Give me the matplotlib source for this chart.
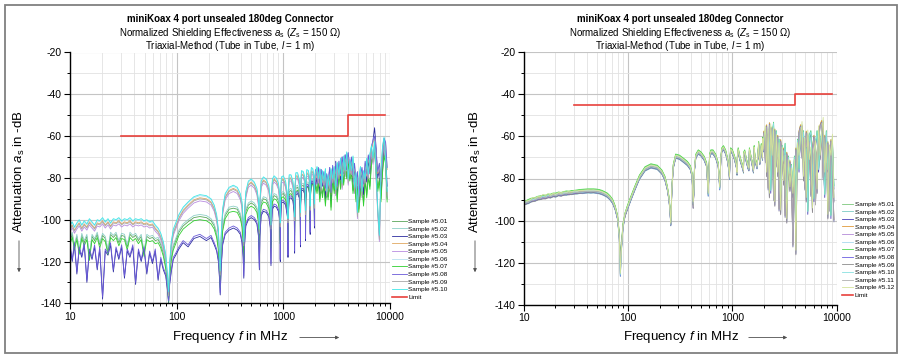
import numpy as np
import matplotlib
matplotlib.use("Agg")
import matplotlib.pyplot as plt
from matplotlib.ticker import MultipleLocator, LogLocator, NullFormatter
from matplotlib.patches import Rectangle, FancyArrowPatch

plt.rcParams['font.family'] = ['Liberation Sans', 'DejaVu Sans']
plt.rcParams['mathtext.fontset'] = 'custom'
plt.rcParams['mathtext.rm'] = 'Liberation Sans'
plt.rcParams['mathtext.it'] = 'Liberation Sans:italic'
plt.rcParams['mathtext.bf'] = 'Liberation Sans:bold'
plt.rcParams['axes.unicode_minus'] = False

# ---------------- frequency grid (MHz) ----------------
freq_low = [10, 10.5, 11, 11.6, 12.2, 12.9, 13.6, 14.4, 15.2, 16.1,
            17, 18, 19, 20.2, 21.4, 22.7, 24, 25.5, 27, 28.7,
            30.5, 32.4, 34.4, 36.5, 38.8, 41.2, 43.8, 46.5, 49.4, 52.5,
            55.8, 59.3, 63, 67, 71, 75, 79, 82, 84, 86,
            89, 93]
freq_mid = [98, 105, 115, 128, 145, 165, 190, 210, 225, 237, 246, 252, 256, 262,
            270, 285, 310, 340, 370, 395, 410, 420, 426, 432,
            445, 470, 500, 535, 565, 585, 596, 603,
            620, 650, 690, 730, 755, 766, 773,
            790, 820, 860, 900, 928, 936, 943,
            960, 1000, 1050, 1095, 1106, 1113,
            1135, 1180, 1230, 1266, 1276, 1283,
            1310, 1360, 1410, 1438, 1446, 1453,
            1480, 1540, 1590, 1608, 1616, 1623,
            1660, 1720, 1770, 1786, 1793,
            1830, 1890, 1940, 1956, 1963]
freq_high = [2000, 2070, 2130, 2200, 2260, 2330, 2400, 2480, 2550, 2630,
             2720, 2800, 2900, 3000, 3100, 3200, 3320, 3440, 3560, 3680,
             3800, 3930, 4060, 4200, 4350, 4500, 4650, 4800, 4950, 5100,
             5280, 5460, 5650, 5850, 6050, 6260, 6480, 6700, 6930, 7170,
             7420, 7680, 7950, 8230, 8520, 8800, 9100, 9400]

# ---------------- left panel: three sample groups ----------------
upper_low = [-104, -102.5, -105, -103, -101.5, -104, -102, -103.5, -101, -102.5,
             -104, -101.5, -102, -100.5, -102.5, -101, -103, -101, -101.5, -100.5,
             -102, -101, -101.5, -100.5, -102, -101, -101.5, -101, -102, -101.5,
             -102.5, -102, -104, -105.5, -108, -112, -118, -128, -136, -122,
             -112, -106]
upper_mid = [-103, -99, -95.5, -93, -90.5, -89.5, -90, -91.5, -94.5, -99, -106, -118, -126, -108,
             -96, -89, -86, -85, -86, -89, -93, -102, -112, -98,
             -88, -83, -82, -83.5, -86.5, -92, -106, -92,
             -83, -81, -82, -85, -91, -104, -90,
             -82, -80.5, -81.5, -84, -90, -103, -88,
             -81, -80.5, -83, -90, -101, -87,
             -80, -80, -83, -89, -100, -86,
             -79, -79, -82, -88, -98, -85,
             -78, -78.5, -81, -87, -97, -84,
             -77.5, -78, -82, -95, -83,
             -76.5, -77, -81, -94, -82]
upper_high = [-77, -80, -76, -84, -77, -82, -78, -86, -79, -83,
              -76, -88, -75, -81, -74, -85, -73, -79, -71, -77,
              -70, -74, -69, -76, -71, -80, -74, -83, -78, -90,
              -80, -76, -84, -73, -79, -70, -75, -66, -63, -61,
              -70, -78, -74, -82, -70, -62, -64, -76]
upper_high_b = [-79, -76, -82, -77, -86, -78, -83, -77, -88, -80,
                -85, -77, -82, -76, -87, -74, -80, -72, -84, -71,
                -78, -69, -82, -73, -78, -71, -86, -79, -98, -82,
                -76, -88, -78, -82, -72, -80, -70, -66, -72, -64,
                -80, -96, -109, -78, -66, -62, -72, -88]

middle_low = [-110, -107, -113, -108, -115, -107.5, -111, -108, -118, -108,
              -110, -107, -112, -107.5, -109, -115, -107, -108.5, -107, -111,
              -107.5, -108, -113, -107, -108.5, -107.5, -110, -108, -116, -108,
              -109, -108.5, -110, -109.5, -112, -116, -122, -130, -138, -126,
              -118, -113]
middle_mid = [-110, -106, -103, -101, -99, -98.5, -99, -100.5, -103, -107, -113, -124, -131, -115,
              -104, -98, -95, -94.5, -95, -98, -102, -109, -120, -105,
              -96, -93, -92, -93, -95, -100, -114, -100,
              -92, -90, -90.5, -93, -98, -112, -97,
              -90, -88.5, -89, -91, -96, -110, -95,
              -88, -87.5, -89, -95, -108, -93,
              -86.5, -86, -88, -94, -106, -92,
              -85, -84.5, -87, -92, -104, -90,
              -84, -83.5, -86, -91, -102, -89,
              -83, -83, -87, -100, -88,
              -82, -81.5, -85, -98, -87]
middle_high = [-82, -86, -81, -90, -83, -88, -82, -92, -84, -89,
               -80, -94, -79, -86, -78, -90, -76, -84, -74, -82,
               -73, -79, -72, -80, -76, -86, -80, -90, -84, -95,
               -86, -82, -92, -80, -88, -78, -84, -72, -68, -66,
               -76, -85, -80, -90, -76, -68, -72, -90]

lower_low = [-113, -120, -112, -126, -114, -118, -112, -130, -115, -119,
             -113, -124, -114, -138, -115, -117, -112, -125, -114, -119,
             -113, -128, -115, -118, -113, -131, -115, -120, -114, -126,
             -116, -121, -115, -129, -119, -124, -127, -134, -140, -131,
             -125, -119]
lower_mid = [-117, -114, -111, -113, -109, -108, -110, -108.5, -112, -115, -120, -128, -136, -122,
             -112, -107, -105, -104, -105, -107, -111, -118, -128, -113,
             -103, -100, -99, -100, -102, -108, -124, -108,
             -98, -96, -96.5, -98.5, -104, -122, -104,
             -95, -93.5, -94, -96, -101, -120, -101,
             -92, -91.5, -93, -99, -118, -98,
             -90, -89.5, -91, -97, -116, -96,
             -88, -87.5, -89.5, -95, -113, -93,
             -86, -86, -88, -94, -110, -91,
             -84, -84.5, -88, -107, -89,
             -82.5, -82.5, -86, -104, -88]
lower_high = [-78, -83, -77, -88, -76, -84, -79, -90, -80, -85,
              -75, -91, -76, -83, -72, -88, -74, -81, -70, -78,
              -69, -76, -68, -77, -72, -82, -75, -86, -80, -92,
              -82, -78, -88, -75, -82, -72, -78, -66, -62, -56,
              -66, -80, -76, -86, -72, -65, -68, -84]

# ---------------- right panel: two sample groups ----------------
r1_low = [-91.5, -91, -90.5, -90, -89.8, -89.5, -89, -88.8, -88.5, -88.5,
          -88, -88, -87.5, -87.5, -87, -87.2, -86.8, -86.5, -86.6, -86.3,
          -86.2, -86, -85.8, -85.7, -85.6, -85.5, -85.5, -85.5, -85.6, -85.8,
          -86.2, -86.8, -87.5, -88.8, -90.5, -93.5, -98, -106, -118, -112,
          -102, -97]
r1_mid = [-93.5, -89.5, -84.5, -79, -75, -73.6, -74.3, -76.5, -79.5, -84, -89, -95, -101, -85,
          -74, -69, -69.5, -71, -72.5, -74.5, -78, -93, -86, -75,
          -69, -67, -68, -70, -73, -86, -75, -69,
          -67, -67, -69, -73, -83, -76, -70,
          -66, -65, -67, -71, -76, -79, -72,
          -66, -67, -70, -74, -77, -70,
          -66, -70, -73, -75, -76, -68,
          -67, -71, -74, -75, -72, -66,
          -68, -72, -76, -71, -65, -67,
          -71, -74, -66, -63, -68,
          -72, -64, -70, -61, -66]
r1_high = [-58, -72, -55, -85, -54, -66, -56, -90, -57, -74,
           -60, -95, -62, -70, -66, -98, -68, -75, -72, -80,
           -112, -78, -66, -74, -58, -55, -70, -60, -85, -58,
           -64, -62, -88, -66, -60, -92, -68, -62, -55, -53,
           -80, -60, -72, -63, -95, -62, -75, -100]

r2_low = [-92, -91.6, -91.5, -90.8, -90, -90.2, -89.5, -89.5, -88.6, -89,
          -88.2, -88.8, -88, -88.4, -87.6, -87.8, -87.3, -87.5, -87, -87.2,
          -86.8, -86.9, -86.6, -86.7, -86.5, -86.4, -86.5, -86.4, -86.6, -86.8,
          -87.2, -87.8, -88.5, -89.8, -91.5, -94.5, -99, -108, -126, -114,
          -103.5, -97.5]
r2_mid = [-94.5, -90.5, -85.5, -80, -76, -74.6, -75.3, -77.5, -80.5, -85, -90, -96, -102, -86,
          -75, -70, -70.5, -72, -73.5, -75.5, -79, -92, -87, -76,
          -70, -68, -69, -71, -74, -88, -76, -70,
          -68, -68, -70, -74, -85, -77, -71,
          -67, -66, -68, -72, -77, -80, -73,
          -67, -68, -71, -75, -78, -71,
          -67, -71, -74, -76, -77, -69,
          -68, -72, -75, -76, -73, -67,
          -69, -73, -77, -72, -66, -68,
          -72, -75, -67, -64, -69,
          -73, -65, -71, -62, -67]
r2_high = [-62, -56, -78, -58, -88, -55, -70, -57, -92, -60,
           -78, -64, -96, -66, -82, -70, -100, -72, -85, -76,
           -88, -72, -115, -64, -70, -62, -54, -80, -62, -90,
           -58, -72, -66, -95, -68, -63, -86, -56, -70, -60,
           -52, -78, -64, -98, -65, -70, -60, -90]
r3_high = [-64, -58, -60, -75, -56, -86, -60, -54, -80, -58,
           -70, -62, -88, -65, -72, -64, -92, -70, -78, -74,
           -84, -70, -100, -62, -76, -56, -64, -58, -72, -66,
           -96, -60, -58, -74, -90, -64, -58, -76, -66, -58,
           -70, -88, -58, -76, -66, -98, -64, -84]

# ---------------- samples ----------------
left_names = ['Sample #5.01', 'Sample #5.02', 'Sample #5.03', 'Sample #5.04', 'Sample #5.05',
              'Sample #5.06', 'Sample #5.07', 'Sample #5.08', 'Sample #5.09', 'Sample #5.10']
left_colors = ['#5aa55a', '#8fd0c8', '#2c2ca0', '#e0a860', '#b98ce0',
               '#b8e0f0', '#30d030', '#6a5ad8', '#a8a8a8', '#40e8e8']
left_base = ['middle', 'middle', 'lower', 'upper', 'upper',
             'upper', 'middle', 'lower', 'upper', 'upper']
left_hf = ['middle_high', 'upper_high_b', 'lower_high', 'upper_high', 'upper_high_b',
           'upper_high', 'middle_high', 'upper_high', 'upper_high_b', 'upper_high_b']
left_offset = [0.0, 1.0, 0.0, 0.0, -1.5, 1.0, -1.5, 1.0, -0.5, 1.5]

right_names = ['Sample #5.%02d' % i for i in range(1, 13)]
right_colors = ['#7cc87c', '#7ccbc4', '#4a3fb8', '#e09a3a', '#b48ad8', '#a8d8ee',
                '#50d850', '#6a5ee0', '#8c8c8c', '#88e0e0', '#b0b0b0', '#d4e49a']
right_base = ['r1', 'r2', 'r1', 'r2', 'r1', 'r2', 'r1', 'r2', 'r1', 'r2', 'r1', 'r2']
right_hf = ['r1_high', 'r2_high', 'r3_high', 'r1_high', 'r2_high', 'r3_high',
            'r3_high', 'r1_high', 'r2_high', 'r3_high', 'r1_high', 'r2_high']
right_offset = [0.3, -0.5, -1.0, 0.5, -0.8, 0.8, 0.6, -0.3, -1.2, 0.2, -0.6, 1.0]

limit_left_f = [30, 4000, 4000, 9000]
limit_left_v = [-60, -60, -50, -50]
limit_right_f = [30, 4000, 4000, 9000]
limit_right_v = [-45, -45, -40, -40]

lowmid = {'upper': upper_low + upper_mid, 'middle': middle_low + middle_mid,
          'lower': lower_low + lower_mid, 'r1': r1_low + r1_mid, 'r2': r2_low + r2_mid}
highs = {'upper_high': upper_high, 'upper_high_b': upper_high_b, 'middle_high': middle_high,
         'lower_high': lower_high, 'r1_high': r1_high, 'r2_high': r2_high, 'r3_high': r3_high}
freq = np.array(freq_low + freq_mid + freq_high, dtype=float)

W, H = 899, 354
fig = plt.figure(figsize=(W / 100, H / 100), dpi=100)


def fx(px):
    return px / W


def fy(py):
    return 1 - py / H


def style_axis(ax):
    ax.set_xscale('log')
    ax.set_xlim(10, 10000)
    ax.set_ylim(-140, -20)
    ax.set_xticks([10, 100, 1000, 10000], labels=['10', '100', '1000', '10000'])
    ax.xaxis.set_minor_locator(LogLocator(base=10, subs=range(2, 10), numticks=20))
    ax.xaxis.set_minor_formatter(NullFormatter())
    ax.yaxis.set_major_locator(MultipleLocator(20))
    ax.yaxis.set_minor_locator(MultipleLocator(10))
    ax.grid(which='major', color='#c4c4c4', lw=0.8, zorder=0)
    ax.grid(which='minor', color='#e2e2e2', lw=0.6, zorder=0)
    ax.set_axisbelow(True)
    for s in ['top', 'right']:
        ax.spines[s].set_visible(False)
    for s in ['left', 'bottom']:
        ax.spines[s].set_linewidth(1.0)
    ax.tick_params(which='major', direction='out', length=4, width=0.8, labelsize=7.5, pad=2)
    ax.tick_params(which='minor', direction='out', length=2.5, width=0.7)


def draw_panel(ax, names, colors, base, hf, offs, lf, lv, leg_x, leg_y, hlen):
    style_axis(ax)
    handles = []
    for n, c, b, h, o in zip(names, colors, base, hf, offs):
        vals = np.array(lowmid[b] + highs[h], dtype=float) + o
        ln, = ax.plot(freq, vals, color=c, lw=0.6, label=n)
        handles.append(ln)
    lim, = ax.plot(lf, lv, color='#e8413c', lw=1.2, label='Limit')
    handles.append(lim)
    ax.legend(handles=handles, loc='upper left', bbox_to_anchor=(fx(leg_x), fy(leg_y)),
              bbox_transform=fig.transFigure, frameon=False, fontsize=4.6,
              handlelength=hlen, handletextpad=0.3, labelspacing=0.33,
              borderpad=0, borderaxespad=0)


axL = fig.add_axes([fx(70), fy(303.3), 320 / W, 250.8 / H])
axR = fig.add_axes([fx(524), fy(305), 312.7 / W, 253 / H])
draw_panel(axL, left_names, left_colors, left_base, left_hf, left_offset,
           limit_left_f, limit_left_v, 391.5, 218.5, 2.35)
draw_panel(axR, right_names, right_colors, right_base, right_hf, right_offset,
           limit_right_f, limit_right_v, 841.5, 201.5, 1.8)

title1 = 'miniKoax 4 port unsealed 180deg Connector'
title2 = 'Normalized Shielding Effectiveness $a_\\mathrm{s}$ ($Z_\\mathrm{s}$ = 150 Ω)'
title3 = 'Triaxial-Method (Tube in Tube, $l$ = 1 m)'
for cx in (230, 680):
    fig.text(fx(cx), fy(19.3), title1, ha='center', va='center', fontsize=7, fontweight='bold')
    fig.text(fx(cx), fy(33), title2, ha='center', va='center', fontsize=7)
    fig.text(fx(cx), fy(46), title3, ha='center', va='center', fontsize=7)

for (ylx, xlc, ax0, ax1) in ((19, 230, 297, 342), (475, 681, 746, 790)):
    fig.text(fx(ylx), fy(172), 'Attenuation $a_\\mathrm{s}$ in -dB', rotation=90,
             ha='center', va='center', fontsize=9.5)
    fig.text(fx(xlc), fy(337), 'Frequency $f$ in MHz', ha='center', va='center', fontsize=9.5)
    fig.add_artist(FancyArrowPatch(
        (fx(ax0), fy(337.5)), (fx(ax1), fy(337.5)), transform=fig.transFigure,
        arrowstyle='-|>', mutation_scale=5, color='#505050', lw=0.6))
    fig.add_artist(FancyArrowPatch(
        (fx(ylx), fy(238)), (fx(ylx), fy(275)), transform=fig.transFigure,
        arrowstyle='-|>', mutation_scale=5, color='#505050', lw=0.6))

fig.patches.append(Rectangle((fx(4.5), fy(352.5)), 892 / W, 347.5 / H, transform=fig.transFigure,
                             fill=False, edgecolor='#808080', lw=1.3))

fig.savefig('out.png', dpi=100)
